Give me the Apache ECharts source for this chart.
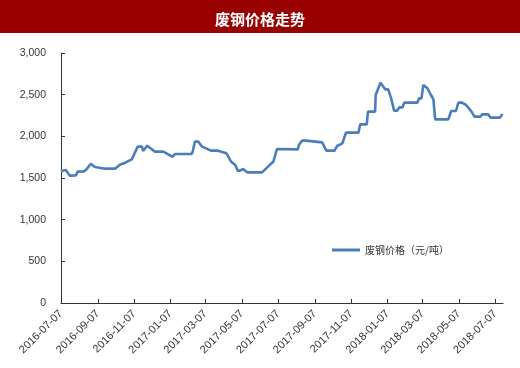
<!DOCTYPE html>
<html><head><meta charset="utf-8">
<script src="https://cdn.jsdelivr.net/npm/echarts@6/dist/echarts.min.js"></script>
<style>html,body{margin:0;padding:0;background:#fff}#c{width:520px;height:368px}</style>
</head><body><div id="c"></div>
<script>
var titleText = '废钢价格走势';
var seriesName = '废钢价格（元/吨）';
var startDate = '2016-07-07';
var endDate = '2018-07-20';
var tickLabels = ['2016-07-07','2016-09-07','2016-11-07','2017-01-07','2017-03-07','2017-05-07','2017-07-07','2017-09-07','2017-11-07','2018-01-07','2018-03-07','2018-05-07','2018-07-07'];
var yTicks = [0, 500, 1000, 1500, 2000, 2500, 3000];
var priceDates = ['2016-07-07','2016-07-15','2016-07-22','2016-08-01','2016-08-04','2016-08-15','2016-08-19','2016-08-26','2016-09-02','2016-09-19','2016-10-06','2016-10-14','2016-10-23','2016-11-03','2016-11-13','2016-11-20','2016-11-22','2016-11-29','2016-12-12','2016-12-26','2017-01-10','2017-01-15','2017-02-12','2017-02-14','2017-02-17','2017-02-23','2017-03-01','2017-03-08','2017-03-16','2017-03-28','2017-04-11','2017-04-14','2017-04-19','2017-04-26','2017-04-30','2017-05-04','2017-05-09','2017-05-16','2017-06-10','2017-06-17','2017-06-24','2017-06-29','2017-07-05','2017-08-09','2017-08-11','2017-08-16','2017-08-23','2017-08-26','2017-09-19','2017-09-26','2017-10-10','2017-10-14','2017-10-23','2017-10-29','2017-11-19','2017-11-22','2017-12-03','2017-12-05','2017-12-17','2017-12-18','2017-12-21','2017-12-26','2017-12-29','2018-01-03','2018-01-08','2018-01-13','2018-01-18','2018-01-23','2018-01-27','2018-02-01','2018-02-04','2018-02-26','2018-03-01','2018-03-05','2018-03-08','2018-03-15','2018-03-21','2018-03-25','2018-03-28','2018-04-19','2018-04-24','2018-05-02','2018-05-06','2018-05-12','2018-05-19','2018-05-28','2018-06-02','2018-06-12','2018-06-15','2018-06-25','2018-06-29','2018-07-15','2018-07-19'];
var priceValues = [1580,1596,1528,1530,1576,1580,1604,1672,1632,1612,1612,1660,1684,1724,1876,1876,1824,1888,1816,1816,1756,1788,1788,1836,1936,1936,1876,1856,1828,1828,1796,1780,1696,1656,1588,1588,1608,1568,1568,1616,1664,1696,1848,1844,1896,1948,1948,1928,1928,1828,1828,1884,1916,2044,2044,2144,2144,2296,2296,2496,2496,2644,2620,2564,2564,2456,2308,2308,2348,2348,2404,2404,2456,2456,2616,2576,2496,2444,2204,2204,2304,2304,2404,2404,2376,2296,2236,2236,2264,2264,2224,2224,2268];

function pad(n){return n<10?'0'+n:''+n;}
function fmt(d){return d.getUTCFullYear()+'-'+pad(d.getUTCMonth()+1)+'-'+pad(d.getUTCDate());}
var days = [];
var cur = new Date(startDate+'T00:00:00Z'), end = new Date(endDate+'T00:00:00Z');
while (cur <= end) { days.push(fmt(cur)); cur = new Date(cur.getTime()+86400000); }
var tickSet = {}; tickLabels.forEach(function(t){tickSet[t]=true;});
var data = priceDates.map(function(d,i){return [d, priceValues[i]];});

var chart = echarts.init(document.getElementById('c'), null, {renderer:'canvas'});
chart.setOption({
  animation:false,
  backgroundColor:'#fff',
  graphic:[{type:'rect', left:0, top:0, shape:{width:520, height:33}, style:{fill:'#990000'}, z:0}],
  title:{text:titleText, left:'center', top:7, textStyle:{color:'#fff', fontSize:15, fontWeight:'bold', fontFamily:'Noto Sans CJK SC'}},
  legend:{left:327, top:240, icon:'rect', itemWidth:28, itemHeight:3, itemGap:4,
    textStyle:{fontSize:10, color:'#333', fontFamily:'Noto Sans CJK SC'}, data:[seriesName]},
  grid:{left:61, right:17, top:53, bottom:65, containLabel:false},
  xAxis:{type:'category', data:days, boundaryGap:false,
    axisLine:{lineStyle:{color:'#333', width:1}},
    axisTick:{inside:true, length:4, interval:function(i,v){return !!tickSet[v];}, lineStyle:{color:'#333'}},
    axisLabel:{rotate:45, fontSize:11, color:'#333', margin:9, fontFamily:'Liberation Sans',
      interval:function(i,v){return !!tickSet[v];}},
    splitLine:{show:false}},
  yAxis:{type:'value', min:yTicks[0], max:yTicks[yTicks.length-1], interval:500,
    axisLine:{show:true, lineStyle:{color:'#333', width:1}},
    axisTick:{show:true, inside:true, length:4, lineStyle:{color:'#333'}},
    axisLabel:{fontSize:10.5, color:'#333', margin:15, fontFamily:'Liberation Sans',
      formatter:function(v){return v.toLocaleString('en-US');}},
    splitLine:{show:false}},
  series:[{name:seriesName, type:'line', data:data, showSymbol:false, symbol:'none',
    lineStyle:{color:'#4a7ebb', width:2.6}, itemStyle:{color:'#4a7ebb'}}]
});
</script></body></html>
